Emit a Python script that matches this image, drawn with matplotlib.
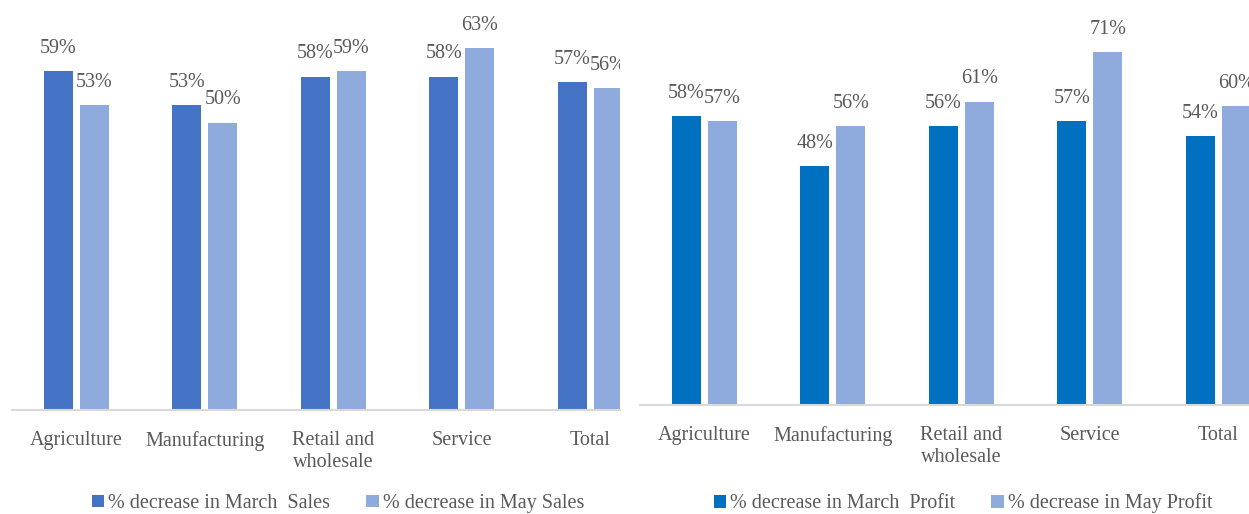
import numpy as np
import matplotlib
matplotlib.use("Agg")
import matplotlib.pyplot as plt

# data
categories = ["Agriculture", "Manufacturing", "Retail and\nwholesale", "Service", "Total"]
march_sales = [59, 53, 58, 58, 57]
may_sales = [53, 50, 59, 63, 56]
march_profit = [58, 48, 56, 57, 54]
may_profit = [57, 56, 61, 71, 60]

plt.rcParams['font.family'] = ['Liberation Serif', 'DejaVu Serif']
grey = '#595959'
fs = 14.5

W, H = 1249, 514
fig = plt.figure(figsize=(W / 100, H / 100), dpi=100)


def panel(left_px, right_px, base_px, top_px, xmax, ymax, a, b, c1, c2, lab1, lab2, leg_x):
    ax = fig.add_axes([left_px / W, (H - base_px) / H, (right_px - left_px) / W, (base_px - top_px) / H])
    x = np.arange(len(categories))
    w = 0.226
    off = 0.14
    b1 = ax.bar(x - off, a, w, color=c1, label=lab1)
    b2 = ax.bar(x + off, b, w, color=c2, label=lab2)
    for bars, vals in ((b1, a), (b2, b)):
        for r, v in zip(bars, vals):
            ax.annotate(f"{v}%", (r.get_x() + r.get_width() / 2, v), xytext=(0, 13),
                        textcoords='offset points', ha='center', va='baseline',
                        fontsize=fs, color=grey, annotation_clip=False, clip_on=True)
    ax.set_xlim(-0.5, xmax)
    ax.set_ylim(0, ymax)
    ax.set_xticks(x)
    ax.set_xticklabels(categories, fontsize=fs, color=grey, linespacing=1.2)
    ax.tick_params(axis='x', length=0, pad=15)
    ax.set_yticks([])
    for s in ('top', 'right', 'left'):
        ax.spines[s].set_visible(False)
    ax.spines['bottom'].set_color('#d9d9d9')
    ax.spines['bottom'].set_linewidth(1.5)
    fig.legend(handles=[b1, b2], loc='center', bbox_to_anchor=(leg_x / W, (H - 503.5) / H),
               ncol=2, frameon=False, fontsize=fs, labelcolor=grey,
               handlelength=0.6, handleheight=0.6, handletextpad=0.2, columnspacing=1.8)
    return ax


panel(12, 620, 410, 7.5, (620 - 76.5) / 128.5, 70,
      march_sales, may_sales, '#4472C4', '#8FAADC',
      '% decrease in March  Sales', '% decrease in May Sales', 338)
panel(640, 1249, 405, 7, (1249 - 704.5) / 128.5, 80,
      march_profit, may_profit, '#0070C0', '#8FAADC',
      '% decrease in March  Profit', '% decrease in May Profit', 963)

fig.savefig('out.png', dpi=100)
